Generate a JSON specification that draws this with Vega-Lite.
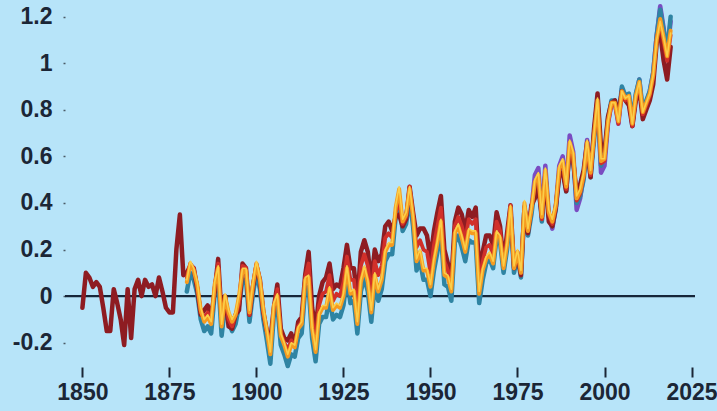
{
"$schema":"https://vega.github.io/schema/vega-lite/v6.json",
"width":630,"height":361,
"autosize":{"type":"none"},
"padding":{"left":65,"top":5,"right":22,"bottom":45},
"background":"#b7e4f9",
"config":{"view":{"stroke":null},"font":"Liberation Sans"},
"datasets":{
"Z":[{"t":1845,"v":0},{"t":2026,"v":0}],
"H":[{"t":1850,"v":-0.05},{"t":1851,"v":0.10},{"t":1852,"v":0.08},{"t":1853,"v":0.04},{"t":1854,"v":0.06},{"t":1855,"v":0.04},{"t":1856,"v":-0.05},{"t":1857,"v":-0.15},{"t":1858,"v":-0.15},{"t":1859,"v":0.03},{"t":1860,"v":-0.03},{"t":1861,"v":-0.10},{"t":1862,"v":-0.21},{"t":1863,"v":0.03},{"t":1864,"v":-0.18},{"t":1865,"v":0.03},{"t":1866,"v":0.07},{"t":1867,"v":0.0},{"t":1868,"v":0.07},{"t":1869,"v":0.04},{"t":1870,"v":0.05},{"t":1871,"v":0.0},{"t":1872,"v":0.08},{"t":1873,"v":0.02},{"t":1874,"v":-0.05},{"t":1875,"v":-0.07},{"t":1876,"v":-0.07},{"t":1877,"v":0.20},{"t":1878,"v":0.35},{"t":1879,"v":0.09},
{"t":1880,"v":0.10},{"t":1881,"v":0.13},{"t":1882,"v":0.12},{"t":1883,"v":0.03},{"t":1884,"v":-0.08},{"t":1885,"v":-0.06},{"t":1886,"v":-0.04},{"t":1887,"v":-0.09},{"t":1888,"v":0.02},{"t":1889,"v":0.16},{"t":1890,"v":-0.09},{"t":1891,"v":0.0},{"t":1892,"v":-0.13},{"t":1893,"v":-0.14},{"t":1894,"v":-0.08},{"t":1895,"v":-0.06},{"t":1896,"v":0.14},{"t":1897,"v":0.12},{"t":1898,"v":-0.08},{"t":1899,"v":0.04},
{"t":1900,"v":0.13},{"t":1901,"v":0.07},{"t":1902,"v":-0.07},{"t":1903,"v":-0.15},{"t":1904,"v":-0.19},{"t":1905,"v":-0.05},{"t":1906,"v":0.05},{"t":1907,"v":-0.14},{"t":1908,"v":-0.18},{"t":1909,"v":-0.19},{"t":1910,"v":-0.16},{"t":1911,"v":-0.21},{"t":1912,"v":-0.11},{"t":1913,"v":-0.09},{"t":1914,"v":0.09},{"t":1915,"v":0.19},{"t":1916,"v":-0.05},{"t":1917,"v":-0.14},{"t":1918,"v":0.0},{"t":1919,"v":0.06},
{"t":1920,"v":0.08},{"t":1921,"v":0.14},{"t":1922,"v":0.03},{"t":1923,"v":0.05},{"t":1924,"v":0.04},{"t":1925,"v":0.12},{"t":1926,"v":0.22},{"t":1927,"v":0.12},{"t":1928,"v":0.12},{"t":1929,"v":-0.02},{"t":1930,"v":0.19},{"t":1931,"v":0.24},{"t":1932,"v":0.19},{"t":1933,"v":0.06},{"t":1934,"v":0.20},{"t":1935,"v":0.15},{"t":1936,"v":0.18},{"t":1937,"v":0.30},{"t":1938,"v":0.32},{"t":1939,"v":0.28},
{"t":1940,"v":0.34},{"t":1941,"v":0.35},{"t":1942,"v":0.30},{"t":1943,"v":0.33},{"t":1944,"v":0.47},{"t":1945,"v":0.36},{"t":1946,"v":0.26},{"t":1947,"v":0.29},{"t":1948,"v":0.29},{"t":1949,"v":0.26},{"t":1950,"v":0.16},{"t":1951,"v":0.28},{"t":1952,"v":0.36},{"t":1953,"v":0.43},{"t":1954,"v":0.20},{"t":1955,"v":0.14},{"t":1956,"v":0.06},{"t":1957,"v":0.32},{"t":1958,"v":0.38},{"t":1959,"v":0.35},
{"t":1960,"v":0.28},{"t":1961,"v":0.37},{"t":1962,"v":0.34},{"t":1963,"v":0.38},{"t":1964,"v":0.11},{"t":1965,"v":0.19},{"t":1966,"v":0.26},{"t":1967,"v":0.26},{"t":1968,"v":0.22},{"t":1969,"v":0.36},{"t":1970,"v":0.30},{"t":1971,"v":0.14},{"t":1972,"v":0.27},{"t":1973,"v":0.39},{"t":1974,"v":0.12},{"t":1975,"v":0.18},{"t":1976,"v":0.09},{"t":1977,"v":0.38},{"t":1978,"v":0.27},{"t":1979,"v":0.39},
{"t":1980,"v":0.42},{"t":1981,"v":0.47},{"t":1982,"v":0.34},{"t":1983,"v":0.52},{"t":1984,"v":0.32},{"t":1985,"v":0.30},{"t":1986,"v":0.38},{"t":1987,"v":0.52},{"t":1988,"v":0.53},{"t":1989,"v":0.45},{"t":1990,"v":0.63},{"t":1991,"v":0.58},{"t":1992,"v":0.44},{"t":1993,"v":0.48},{"t":1994,"v":0.54},{"t":1995,"v":0.66},{"t":1996,"v":0.51},{"t":1997,"v":0.72},{"t":1998,"v":0.87},{"t":1999,"v":0.64},
{"t":2000,"v":0.62},{"t":2001,"v":0.77},{"t":2002,"v":0.83},{"t":2003,"v":0.84},{"t":2004,"v":0.78},{"t":2005,"v":0.88},{"t":2006,"v":0.84},{"t":2007,"v":0.82},{"t":2008,"v":0.73},{"t":2009,"v":0.84},{"t":2010,"v":0.89},{"t":2011,"v":0.76},{"t":2012,"v":0.80},{"t":2013,"v":0.84},{"t":2014,"v":0.91},{"t":2015,"v":1.09},{"t":2016,"v":1.13},{"t":2017,"v":1.01},{"t":2018,"v":0.93},{"t":2019,"v":1.07}],
"G":[{"t":1880,"v":0.06},{"t":1881,"v":0.14},{"t":1882,"v":0.11},{"t":1883,"v":0.05},{"t":1884,"v":-0.06},{"t":1885,"v":-0.11},{"t":1886,"v":-0.09},{"t":1887,"v":-0.12},{"t":1888,"v":0.05},{"t":1889,"v":0.12},{"t":1890,"v":-0.13},{"t":1891,"v":0.0},{"t":1892,"v":-0.07},{"t":1893,"v":-0.11},{"t":1894,"v":-0.08},{"t":1895,"v":0.0},{"t":1896,"v":0.11},{"t":1897,"v":0.11},{"t":1898,"v":-0.07},{"t":1899,"v":0.05},
{"t":1900,"v":0.14},{"t":1901,"v":0.07},{"t":1902,"v":-0.06},{"t":1903,"v":-0.15},{"t":1904,"v":-0.25},{"t":1905,"v":-0.04},{"t":1906,"v":0.0},{"t":1907,"v":-0.17},{"t":1908,"v":-0.21},{"t":1909,"v":-0.26},{"t":1910,"v":-0.21},{"t":1911,"v":-0.22},{"t":1912,"v":-0.14},{"t":1913,"v":-0.12},{"t":1914,"v":0.07},{"t":1915,"v":0.08},{"t":1916,"v":-0.14},{"t":1917,"v":-0.24},{"t":1918,"v":-0.08},{"t":1919,"v":-0.05},
{"t":1920,"v":-0.05},{"t":1921,"v":0.03},{"t":1922,"v":-0.06},{"t":1923,"v":-0.04},{"t":1924,"v":-0.05},{"t":1925,"v":0.0},{"t":1926,"v":0.12},{"t":1927,"v":0.01},{"t":1928,"v":0.02},{"t":1929,"v":-0.12},{"t":1930,"v":0.06},{"t":1931,"v":0.12},{"t":1932,"v":0.06},{"t":1933,"v":-0.07},{"t":1934,"v":0.09},{"t":1935,"v":0.02},{"t":1936,"v":0.07},{"t":1937,"v":0.19},{"t":1938,"v":0.22},{"t":1939,"v":0.22},
{"t":1940,"v":0.38},{"t":1941,"v":0.46},{"t":1942,"v":0.32},{"t":1943,"v":0.35},{"t":1944,"v":0.46},{"t":1945,"v":0.34},{"t":1946,"v":0.15},{"t":1947,"v":0.19},{"t":1948,"v":0.11},{"t":1949,"v":0.11},{"t":1950,"v":0.04},{"t":1951,"v":0.15},{"t":1952,"v":0.23},{"t":1953,"v":0.32},{"t":1954,"v":0.09},{"t":1955,"v":0.08},{"t":1956,"v":0.02},{"t":1957,"v":0.27},{"t":1958,"v":0.30},{"t":1959,"v":0.25},
{"t":1960,"v":0.19},{"t":1961,"v":0.28},{"t":1962,"v":0.27},{"t":1963,"v":0.27},{"t":1964,"v":0.01},{"t":1965,"v":0.11},{"t":1966,"v":0.16},{"t":1967,"v":0.18},{"t":1968,"v":0.14},{"t":1969,"v":0.27},{"t":1970,"v":0.25},{"t":1971,"v":0.12},{"t":1972,"v":0.22},{"t":1973,"v":0.38},{"t":1974,"v":0.12},{"t":1975,"v":0.19},{"t":1976,"v":0.10},{"t":1977,"v":0.40},{"t":1978,"v":0.28},{"t":1979,"v":0.37},
{"t":1980,"v":0.49},{"t":1981,"v":0.52},{"t":1982,"v":0.34},{"t":1983,"v":0.54},{"t":1984,"v":0.36},{"t":1985,"v":0.32},{"t":1986,"v":0.39},{"t":1987,"v":0.55},{"t":1988,"v":0.58},{"t":1989,"v":0.47},{"t":1990,"v":0.66},{"t":1991,"v":0.61},{"t":1992,"v":0.42},{"t":1993,"v":0.45},{"t":1994,"v":0.52},{"t":1995,"v":0.66},{"t":1996,"v":0.53},{"t":1997,"v":0.69},{"t":1998,"v":0.84},{"t":1999,"v":0.58},
{"t":2000,"v":0.59},{"t":2001,"v":0.75},{"t":2002,"v":0.83},{"t":2003,"v":0.83},{"t":2004,"v":0.75},{"t":2005,"v":0.88},{"t":2006,"v":0.85},{"t":2007,"v":0.86},{"t":2008,"v":0.74},{"t":2009,"v":0.86},{"t":2010,"v":0.92},{"t":2011,"v":0.79},{"t":2012,"v":0.83},{"t":2013,"v":0.87},{"t":2014,"v":0.95},{"t":2015,"v":1.10},{"t":2016,"v":1.19},{"t":2017,"v":1.11},{"t":2018,"v":1.03},{"t":2019,"v":1.14}],
"B":[{"t":1880,"v":0.07},{"t":1881,"v":0.15},{"t":1882,"v":0.12},{"t":1883,"v":0.06},{"t":1884,"v":-0.05},{"t":1885,"v":-0.10},{"t":1886,"v":-0.08},{"t":1887,"v":-0.11},{"t":1888,"v":0.06},{"t":1889,"v":0.13},{"t":1890,"v":-0.12},{"t":1891,"v":0.01},{"t":1892,"v":-0.06},{"t":1893,"v":-0.10},{"t":1894,"v":-0.07},{"t":1895,"v":0.01},{"t":1896,"v":0.12},{"t":1897,"v":0.12},{"t":1898,"v":-0.06},{"t":1899,"v":0.06},
{"t":1900,"v":0.15},{"t":1901,"v":0.08},{"t":1902,"v":-0.05},{"t":1903,"v":-0.14},{"t":1904,"v":-0.24},{"t":1905,"v":-0.03},{"t":1906,"v":0.01},{"t":1907,"v":-0.16},{"t":1908,"v":-0.20},{"t":1909,"v":-0.25},{"t":1910,"v":-0.20},{"t":1911,"v":-0.21},{"t":1912,"v":-0.13},{"t":1913,"v":-0.11},{"t":1914,"v":0.08},{"t":1915,"v":0.09},{"t":1916,"v":-0.13},{"t":1917,"v":-0.23},{"t":1918,"v":-0.07},{"t":1919,"v":-0.04},
{"t":1920,"v":-0.04},{"t":1921,"v":0.04},{"t":1922,"v":-0.05},{"t":1923,"v":-0.03},{"t":1924,"v":-0.04},{"t":1925,"v":0.01},{"t":1926,"v":0.13},{"t":1927,"v":0.02},{"t":1928,"v":0.03},{"t":1929,"v":-0.11},{"t":1930,"v":0.07},{"t":1931,"v":0.13},{"t":1932,"v":0.07},{"t":1933,"v":-0.06},{"t":1934,"v":0.10},{"t":1935,"v":0.03},{"t":1936,"v":0.08},{"t":1937,"v":0.20},{"t":1938,"v":0.23},{"t":1939,"v":0.23},
{"t":1940,"v":0.39},{"t":1941,"v":0.47},{"t":1942,"v":0.33},{"t":1943,"v":0.36},{"t":1944,"v":0.47},{"t":1945,"v":0.35},{"t":1946,"v":0.16},{"t":1947,"v":0.20},{"t":1948,"v":0.12},{"t":1949,"v":0.12},{"t":1950,"v":0.05},{"t":1951,"v":0.16},{"t":1952,"v":0.24},{"t":1953,"v":0.33},{"t":1954,"v":0.10},{"t":1955,"v":0.09},{"t":1956,"v":0.03},{"t":1957,"v":0.28},{"t":1958,"v":0.31},{"t":1959,"v":0.26},
{"t":1960,"v":0.20},{"t":1961,"v":0.29},{"t":1962,"v":0.28},{"t":1963,"v":0.28},{"t":1964,"v":0.02},{"t":1965,"v":0.12},{"t":1966,"v":0.17},{"t":1967,"v":0.19},{"t":1968,"v":0.15},{"t":1969,"v":0.28},{"t":1970,"v":0.26},{"t":1971,"v":0.13},{"t":1972,"v":0.23},{"t":1973,"v":0.39},{"t":1974,"v":0.13},{"t":1975,"v":0.20},{"t":1976,"v":0.11},{"t":1977,"v":0.41},{"t":1978,"v":0.29},{"t":1979,"v":0.38},
{"t":1980,"v":0.50},{"t":1981,"v":0.53},{"t":1982,"v":0.35},{"t":1983,"v":0.55},{"t":1984,"v":0.37},{"t":1985,"v":0.33},{"t":1986,"v":0.40},{"t":1987,"v":0.56},{"t":1988,"v":0.59},{"t":1989,"v":0.48},{"t":1990,"v":0.67},{"t":1991,"v":0.62},{"t":1992,"v":0.43},{"t":1993,"v":0.46},{"t":1994,"v":0.53},{"t":1995,"v":0.67},{"t":1996,"v":0.54},{"t":1997,"v":0.70},{"t":1998,"v":0.85},{"t":1999,"v":0.59},
{"t":2000,"v":0.59},{"t":2001,"v":0.75},{"t":2002,"v":0.83},{"t":2003,"v":0.83},{"t":2004,"v":0.75},{"t":2005,"v":0.88},{"t":2006,"v":0.85},{"t":2007,"v":0.86},{"t":2008,"v":0.74},{"t":2009,"v":0.86},{"t":2010,"v":0.92},{"t":2011,"v":0.79},{"t":2012,"v":0.83},{"t":2013,"v":0.87},{"t":2014,"v":0.95},{"t":2015,"v":1.10},{"t":2016,"v":1.18},{"t":2017,"v":1.11},{"t":2018,"v":1.03},{"t":2019,"v":1.13}],
"N":[{"t":1880,"v":0.02},{"t":1881,"v":0.10},{"t":1882,"v":0.07},{"t":1883,"v":0.01},{"t":1884,"v":-0.10},{"t":1885,"v":-0.15},{"t":1886,"v":-0.13},{"t":1887,"v":-0.16},{"t":1888,"v":0.01},{"t":1889,"v":0.08},{"t":1890,"v":-0.17},{"t":1891,"v":-0.04},{"t":1892,"v":-0.11},{"t":1893,"v":-0.15},{"t":1894,"v":-0.12},{"t":1895,"v":-0.04},{"t":1896,"v":0.07},{"t":1897,"v":0.07},{"t":1898,"v":-0.11},{"t":1899,"v":0.01},
{"t":1900,"v":0.10},{"t":1901,"v":0.03},{"t":1902,"v":-0.10},{"t":1903,"v":-0.19},{"t":1904,"v":-0.29},{"t":1905,"v":-0.08},{"t":1906,"v":-0.04},{"t":1907,"v":-0.21},{"t":1908,"v":-0.25},{"t":1909,"v":-0.30},{"t":1910,"v":-0.25},{"t":1911,"v":-0.26},{"t":1912,"v":-0.18},{"t":1913,"v":-0.16},{"t":1914,"v":0.03},{"t":1915,"v":0.04},{"t":1916,"v":-0.18},{"t":1917,"v":-0.28},{"t":1918,"v":-0.12},{"t":1919,"v":-0.09},
{"t":1920,"v":-0.09},{"t":1921,"v":-0.01},{"t":1922,"v":-0.10},{"t":1923,"v":-0.08},{"t":1924,"v":-0.09},{"t":1925,"v":-0.04},{"t":1926,"v":0.08},{"t":1927,"v":-0.03},{"t":1928,"v":-0.02},{"t":1929,"v":-0.16},{"t":1930,"v":0.02},{"t":1931,"v":0.08},{"t":1932,"v":0.02},{"t":1933,"v":-0.11},{"t":1934,"v":0.05},{"t":1935,"v":-0.02},{"t":1936,"v":0.03},{"t":1937,"v":0.15},{"t":1938,"v":0.18},{"t":1939,"v":0.18},
{"t":1940,"v":0.34},{"t":1941,"v":0.42},{"t":1942,"v":0.28},{"t":1943,"v":0.31},{"t":1944,"v":0.42},{"t":1945,"v":0.30},{"t":1946,"v":0.11},{"t":1947,"v":0.15},{"t":1948,"v":0.07},{"t":1949,"v":0.07},{"t":1950,"v":0.0},{"t":1951,"v":0.11},{"t":1952,"v":0.19},{"t":1953,"v":0.28},{"t":1954,"v":0.05},{"t":1955,"v":0.04},{"t":1956,"v":-0.02},{"t":1957,"v":0.23},{"t":1958,"v":0.26},{"t":1959,"v":0.21},
{"t":1960,"v":0.15},{"t":1961,"v":0.24},{"t":1962,"v":0.23},{"t":1963,"v":0.23},{"t":1964,"v":-0.03},{"t":1965,"v":0.07},{"t":1966,"v":0.14},{"t":1967,"v":0.16},{"t":1968,"v":0.12},{"t":1969,"v":0.25},{"t":1970,"v":0.23},{"t":1971,"v":0.10},{"t":1972,"v":0.20},{"t":1973,"v":0.36},{"t":1974,"v":0.10},{"t":1975,"v":0.17},{"t":1976,"v":0.08},{"t":1977,"v":0.38},{"t":1978,"v":0.26},{"t":1979,"v":0.35},
{"t":1980,"v":0.47},{"t":1981,"v":0.50},{"t":1982,"v":0.32},{"t":1983,"v":0.52},{"t":1984,"v":0.34},{"t":1985,"v":0.30},{"t":1986,"v":0.37},{"t":1987,"v":0.53},{"t":1988,"v":0.56},{"t":1989,"v":0.45},{"t":1990,"v":0.64},{"t":1991,"v":0.59},{"t":1992,"v":0.40},{"t":1993,"v":0.43},{"t":1994,"v":0.50},{"t":1995,"v":0.64},{"t":1996,"v":0.51},{"t":1997,"v":0.67},{"t":1998,"v":0.82},{"t":1999,"v":0.56},
{"t":2000,"v":0.60},{"t":2001,"v":0.76},{"t":2002,"v":0.84},{"t":2003,"v":0.84},{"t":2004,"v":0.76},{"t":2005,"v":0.90},{"t":2006,"v":0.86},{"t":2007,"v":0.87},{"t":2008,"v":0.75},{"t":2009,"v":0.87},{"t":2010,"v":0.93},{"t":2011,"v":0.80},{"t":2012,"v":0.84},{"t":2013,"v":0.88},{"t":2014,"v":0.96},{"t":2015,"v":1.12},{"t":2016,"v":1.23},{"t":2017,"v":1.14},{"t":2018,"v":1.05},{"t":2019,"v":1.20}],
"C":[{"t":1880,"v":0.08},{"t":1881,"v":0.14},{"t":1882,"v":0.12},{"t":1883,"v":0.04},{"t":1884,"v":-0.07},{"t":1885,"v":-0.09},{"t":1886,"v":-0.07},{"t":1887,"v":-0.11},{"t":1888,"v":0.04},{"t":1889,"v":0.14},{"t":1890,"v":-0.11},{"t":1891,"v":0.0},{"t":1892,"v":-0.10},{"t":1893,"v":-0.13},{"t":1894,"v":-0.08},{"t":1895,"v":-0.03},{"t":1896,"v":0.13},{"t":1897,"v":0.12},{"t":1898,"v":-0.08},{"t":1899,"v":0.05},
{"t":1900,"v":0.14},{"t":1901,"v":0.07},{"t":1902,"v":-0.07},{"t":1903,"v":-0.15},{"t":1904,"v":-0.22},{"t":1905,"v":-0.05},{"t":1906,"v":0.03},{"t":1907,"v":-0.16},{"t":1908,"v":-0.20},{"t":1909,"v":-0.23},{"t":1910,"v":-0.19},{"t":1911,"v":-0.22},{"t":1912,"v":-0.13},{"t":1913,"v":-0.11},{"t":1914,"v":0.08},{"t":1915,"v":0.14},{"t":1916,"v":-0.10},{"t":1917,"v":-0.19},{"t":1918,"v":-0.04},{"t":1919,"v":0.01},
{"t":1920,"v":0.02},{"t":1921,"v":0.09},{"t":1922,"v":-0.02},{"t":1923,"v":0.01},{"t":1924,"v":0.0},{"t":1925,"v":0.06},{"t":1926,"v":0.17},{"t":1927,"v":0.07},{"t":1928,"v":0.07},{"t":1929,"v":-0.07},{"t":1930,"v":0.13},{"t":1931,"v":0.18},{"t":1932,"v":0.13},{"t":1933,"v":0.0},{"t":1934,"v":0.15},{"t":1935,"v":0.09},{"t":1936,"v":0.13},{"t":1937,"v":0.25},{"t":1938,"v":0.27},{"t":1939,"v":0.25},
{"t":1940,"v":0.36},{"t":1941,"v":0.41},{"t":1942,"v":0.31},{"t":1943,"v":0.34},{"t":1944,"v":0.47},{"t":1945,"v":0.35},{"t":1946,"v":0.21},{"t":1947,"v":0.24},{"t":1948,"v":0.20},{"t":1949,"v":0.19},{"t":1950,"v":0.10},{"t":1951,"v":0.22},{"t":1952,"v":0.30},{"t":1953,"v":0.38},{"t":1954,"v":0.15},{"t":1955,"v":0.11},{"t":1956,"v":0.04},{"t":1957,"v":0.30},{"t":1958,"v":0.34},{"t":1959,"v":0.30},
{"t":1960,"v":0.24},{"t":1961,"v":0.33},{"t":1962,"v":0.31},{"t":1963,"v":0.33},{"t":1964,"v":0.06},{"t":1965,"v":0.15},{"t":1966,"v":0.21},{"t":1967,"v":0.22},{"t":1968,"v":0.18},{"t":1969,"v":0.32},{"t":1970,"v":0.28},{"t":1971,"v":0.13},{"t":1972,"v":0.25},{"t":1973,"v":0.39},{"t":1974,"v":0.12},{"t":1975,"v":0.19},{"t":1976,"v":0.10},{"t":1977,"v":0.39},{"t":1978,"v":0.28},{"t":1979,"v":0.38},
{"t":1980,"v":0.48},{"t":1981,"v":0.51},{"t":1982,"v":0.33},{"t":1983,"v":0.53},{"t":1984,"v":0.35},{"t":1985,"v":0.31},{"t":1986,"v":0.38},{"t":1987,"v":0.54},{"t":1988,"v":0.57},{"t":1989,"v":0.46},{"t":1990,"v":0.65},{"t":1991,"v":0.60},{"t":1992,"v":0.41},{"t":1993,"v":0.44},{"t":1994,"v":0.51},{"t":1995,"v":0.65},{"t":1996,"v":0.52},{"t":1997,"v":0.68},{"t":1998,"v":0.83},{"t":1999,"v":0.57},
{"t":2000,"v":0.58},{"t":2001,"v":0.74},{"t":2002,"v":0.82},{"t":2003,"v":0.82},{"t":2004,"v":0.74},{"t":2005,"v":0.87},{"t":2006,"v":0.84},{"t":2007,"v":0.85},{"t":2008,"v":0.73},{"t":2009,"v":0.85},{"t":2010,"v":0.91},{"t":2011,"v":0.78},{"t":2012,"v":0.82},{"t":2013,"v":0.86},{"t":2014,"v":0.94},{"t":2015,"v":1.11},{"t":2016,"v":1.17},{"t":2017,"v":1.09},{"t":2018,"v":1.01},{"t":2019,"v":1.12}],
"E":[{"t":1979,"v":0.37},{"t":1980,"v":0.52},{"t":1981,"v":0.55},{"t":1982,"v":0.33},{"t":1983,"v":0.56},{"t":1984,"v":0.35},{"t":1985,"v":0.29},{"t":1986,"v":0.38},{"t":1987,"v":0.56},{"t":1988,"v":0.60},{"t":1989,"v":0.46},{"t":1990,"v":0.69},{"t":1991,"v":0.62},{"t":1992,"v":0.37},{"t":1993,"v":0.42},{"t":1994,"v":0.52},{"t":1995,"v":0.67},{"t":1996,"v":0.53},{"t":1997,"v":0.70},{"t":1998,"v":0.85},{"t":1999,"v":0.53},
{"t":2000,"v":0.56},{"t":2001,"v":0.74},{"t":2002,"v":0.83},{"t":2003,"v":0.83},{"t":2004,"v":0.74},{"t":2005,"v":0.89},{"t":2006,"v":0.85},{"t":2007,"v":0.86},{"t":2008,"v":0.73},{"t":2009,"v":0.86},{"t":2010,"v":0.93},{"t":2011,"v":0.78},{"t":2012,"v":0.83},{"t":2013,"v":0.88},{"t":2014,"v":0.96},{"t":2015,"v":1.12},{"t":2016,"v":1.245},{"t":2017,"v":1.15},{"t":2018,"v":1.04},{"t":2019,"v":1.18}]
},
"encoding":{
"x":{"field":"t","type":"quantitative","scale":{"domain":[1845,2026],"nice":false,"zero":false},
"axis":{"values":[1850,1875,1900,1925,1950,1975,2000,2025],"format":"d","title":null,"grid":false,"domain":false,"ticks":true,"tickSize":10,"tickWidth":2,"tickColor":"#1b2636","offset":1,"labelPadding":4,"labelFontSize":23,"labelFontWeight":"bold","labelColor":"#1b2636","labelFlush":false,"labelOverlap":false,"labelBound":false}},
"y":{"field":"v","type":"quantitative","scale":{"domain":[-0.3,1.25],"nice":false,"zero":false},
"axis":{"values":[-0.2,0,0.2,0.4,0.6,0.8,1,1.2],"labelExpr":"'' + round(datum.value*10)/10","title":null,"grid":false,"domain":false,"ticks":true,"tickSize":2,"tickWidth":1.5,"tickColor":"#4a5a66","labelPadding":11,"labelFontSize":23,"labelFontWeight":"bold","labelColor":"#1b2636","labelOverlap":false,"labelBound":false}}
},
"layer":[
{"data":{"name":"Z"},"mark":{"type":"line","color":"#16263a","strokeWidth":2.2}},
{"data":{"name":"E"},"mark":{"type":"line","color":"#7a4cc2","strokeWidth":4.5,"strokeJoin":"round","strokeCap":"round"}},
{"data":{"name":"N"},"mark":{"type":"line","color":"#2f84a3","strokeWidth":4.5,"strokeJoin":"round","strokeCap":"round"}},
{"data":{"name":"H"},"mark":{"type":"line","color":"#8e1c22","strokeWidth":4.5,"strokeJoin":"round","strokeCap":"round"}},
{"data":{"name":"C"},"mark":{"type":"line","color":"#d1302a","strokeWidth":3.8,"strokeJoin":"round","strokeCap":"round"}},
{"data":{"name":"G"},"mark":{"type":"line","color":"#f59b20","strokeWidth":4,"strokeJoin":"round","strokeCap":"round"}},
{"data":{"name":"B"},"mark":{"type":"line","color":"#fbcf4a","strokeWidth":1.6,"strokeJoin":"round","strokeCap":"round"}}
]
}
